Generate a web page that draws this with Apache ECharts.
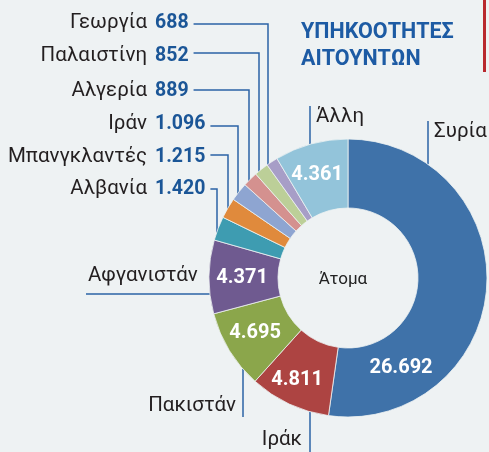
<!DOCTYPE html>
<html>
<head>
<meta charset="utf-8">
<script src="https://cdn.jsdelivr.net/npm/echarts/dist/echarts.min.js"></script>
<style>
html, body { margin: 0; padding: 0; background: #eef2f3; }
#main { width: 489px; height: 452px; }
</style>
</head>
<body>
<div id="main"></div>
<script>
// υπηκοότητες αιτούντων (άτομα)
var countries = ['Συρία', 'Ιράκ', 'Πακιστάν', 'Αφγανιστάν', 'Αλβανία', 'Μπανγκλαντές', 'Ιράν', 'Αλγερία', 'Παλαιστίνη', 'Γεωργία', 'Άλλη'];
var applicants = [26692, 4811, 4695, 4371, 1420, 1215, 1096, 889, 852, 688, 4361];
var colors = ['#3f72a9', '#ad4442', '#8ba64b', '#6f5a90', '#3e9cb1', '#e08a3c', '#8ea5d1', '#d4918f', '#bccf98', '#a79ec7', '#93c4da'];

var cx = 348, cy = 278, R = 139, r0 = 70;
var lineColor = '#2b63a6';

// θέσεις ετικετών (layout μόνο)
var insidePos = { 0: [401, 368], 1: [297, 380], 2: [255, 333], 3: [242, 278], 10: [317, 175] };
// μικρές φέτες: [y ετικέτας, y γραμμής, x κάθετης γραμμής]
var rows = { 4: [189, 189, 217], 5: [157, 155, 228], 6: [124, 126, 238], 7: [91, 90, 249], 8: [56, 53, 259], 9: [23, 24, 268] };

function fmt(v) {
	return String(v).replace(/\B(?=(\d{3})+(?!\d))/g, '.');
}
function edgeY(x, below) {
	var d = Math.sqrt(R * R - (x - cx) * (x - cx));
	return below ? cy + d : cy - d;
}
function edgeX(y) {
	return cx - Math.sqrt(R * R - (y - cy) * (y - cy));
}
function isBig(i) {
	return applicants[i] > 4000;
}

// ετικέτες ονομάτων για τις μεγάλες φέτες
var nameLayout = {
	0: { x: 434, y: 132, align: 'left', pts: [[428, 121], [428, edgeY(428)]] },
	10: { x: 316, y: 117, align: 'left', pts: [[310, 106], [310, edgeY(310)]] },
	3: { x: 88, y: 276, align: 'left', pts: [[86, 294], [edgeX(294), 294]] },
	2: { x: 236, y: 406, align: 'right', pts: [[243, edgeY(243, true)], [243, 417]] },
	1: { x: 302, y: 440, align: 'right', pts: [[310, edgeY(310, true)], [310, 452]] }
};

var valueData = [], nameData = [];
for (var i = 0; i < countries.length; i++) {
	var big = isBig(i);
	valueData.push({
		name: countries[i], value: applicants[i],
		itemStyle: { color: colors[i] },
		label: big ? { position: 'inside', color: '#fff', fontSize: 20 } : { position: 'outside', color: '#1b5697', fontSize: 19.5 },
		labelLine: { show: !big }
	});
	nameData.push({
		name: countries[i], value: applicants[i],
		label: { width: 170 },
		labelLine: { show: big }
	});
}

var chart = echarts.init(document.getElementById('main'));
chart.setOption({
	backgroundColor: '#eef2f3',
	animation: false,
	title: {
		text: 'ΥΠΗΚΟΟΤΗΤΕΣ\nΑΙΤΟΥΝΤΩΝ',
		left: 296, top: 14,
		textStyle: { color: '#1d5ba4', fontSize: 21.5, fontWeight: 'bold', lineHeight: 27, fontFamily: 'Roboto' }
	},
	graphic: [
		{ type: 'rect', shape: { x: 483, y: 0, width: 3, height: 72 }, style: { fill: '#b8282e' } },
		{ type: 'text', x: 343, y: 280, style: { text: 'Άτομα', fontSize: 17, fill: '#222', fontFamily: 'Roboto', textAlign: 'center', textVerticalAlign: 'middle' } }
	],
	series: [{
		// ονόματα (διαφανείς φέτες, μόνο ετικέτες)
		type: 'pie',
		center: [cx, cy], radius: [r0, R],
		startAngle: 90, clockwise: true,
		silent: true, avoidLabelOverlap: false,
		emphasis: { disabled: true },
		itemStyle: { color: 'rgba(0,0,0,0)' },
		label: { show: true, position: 'outside', formatter: '{b}', color: '#231f20', fontSize: 20.5, fontFamily: 'Roboto' },
		labelLine: { lineStyle: { color: lineColor, width: 1.5 } },
		labelLayout: function (p) {
			var i = p.dataIndex;
			if (rows[i]) {
				return { x: 147, y: rows[i][0], align: 'right', verticalAlign: 'middle' };
			}
			var n = nameLayout[i];
			return { x: n.x, y: n.y, align: n.align, verticalAlign: 'middle', labelLinePoints: n.pts };
		},
		data: nameData
	}, {
		// φέτες με τιμές
		type: 'pie',
		center: [cx, cy], radius: [r0, R],
		startAngle: 90, clockwise: true,
		silent: true, avoidLabelOverlap: false,
		emphasis: { disabled: true },
		itemStyle: { borderColor: '#eef2f3', borderWidth: 0.8 },
		label: {
			show: true, fontWeight: 'bold', fontFamily: 'Roboto',
			formatter: function (p) { return fmt(p.value); }
		},
		labelLine: { lineStyle: { color: lineColor, width: 1.5 } },
		labelLayout: function (p) {
			var i = p.dataIndex;
			if (insidePos[i]) {
				return { x: insidePos[i][0], y: insidePos[i][1], align: 'center', verticalAlign: 'middle' };
			}
			var row = rows[i];
			var x0 = 155 + p.labelRect.width + 5;
			return {
				x: 155, y: row[0], align: 'left', verticalAlign: 'middle',
				labelLinePoints: [[x0, row[1]], [row[2], row[1]], [row[2], edgeY(row[2]) + 1]]
			};
		},
		data: valueData
	}]
});
</script>
</body>
</html>
